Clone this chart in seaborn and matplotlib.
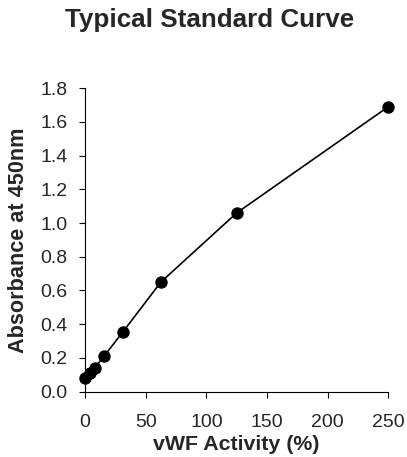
import matplotlib
matplotlib.use('Agg')
import matplotlib.pyplot as plt
import seaborn as sns
import pandas as pd

# ---------- dados da curva padrão ----------
atividade_vwf = [0, 3.9, 7.8, 15.6, 31.25, 62.5, 125, 250]
absorbancia = [0.08, 0.11, 0.14, 0.21, 0.355, 0.65, 1.06, 1.69]
y_ticks = [0.0, 0.2, 0.4, 0.6, 0.8, 1.0, 1.2, 1.4, 1.6, 1.8]
x_ticks = [0, 50, 100, 150, 200, 250]

df = pd.DataFrame({'vWF': atividade_vwf, 'Abs': absorbancia})

sns.set_style('ticks')
plt.rcParams['font.family'] = ['Liberation Sans', 'DejaVu Sans']

fig = plt.figure(figsize=(4.07, 4.57), dpi=100)
ax = fig.add_axes([0.209, 0.143, 0.745, 0.664])

sns.lineplot(data=df, x='vWF', y='Abs', color='black', linewidth=1.2, ax=ax)
sns.scatterplot(data=df, x='vWF', y='Abs', color='black', s=80,
                edgecolor='black', linewidth=0, zorder=3, ax=ax, clip_on=False)

ax.set_xlim(0, 250)
ax.set_ylim(0, 1.8)
ax.set_xticks(x_ticks)
ax.set_yticks(y_ticks)
ax.set_yticklabels([f'{v:.1f}' for v in y_ticks])
ax.tick_params(axis='both', labelsize=14, width=0.8, color='black', direction='out')
ax.tick_params(axis='x', length=4, pad=12)
ax.tick_params(axis='y', length=4.5, pad=8)
for s in ['left', 'bottom']:
    ax.spines[s].set_color('black')
    ax.spines[s].set_linewidth(0.8)
sns.despine(ax=ax)

ax.set_xlabel('vWF Activity (%)', fontsize=15.4, fontweight='bold', labelpad=3)
ax.set_ylabel('Absorbance at 450nm', fontsize=15.6, fontweight='bold', labelpad=8)
fig.text(0.515, 1 - 26.7 / 457, 'Typical Standard Curve', ha='center', va='baseline',
         fontsize=18.7, fontweight='bold')

fig.savefig('out.png', dpi=100)
